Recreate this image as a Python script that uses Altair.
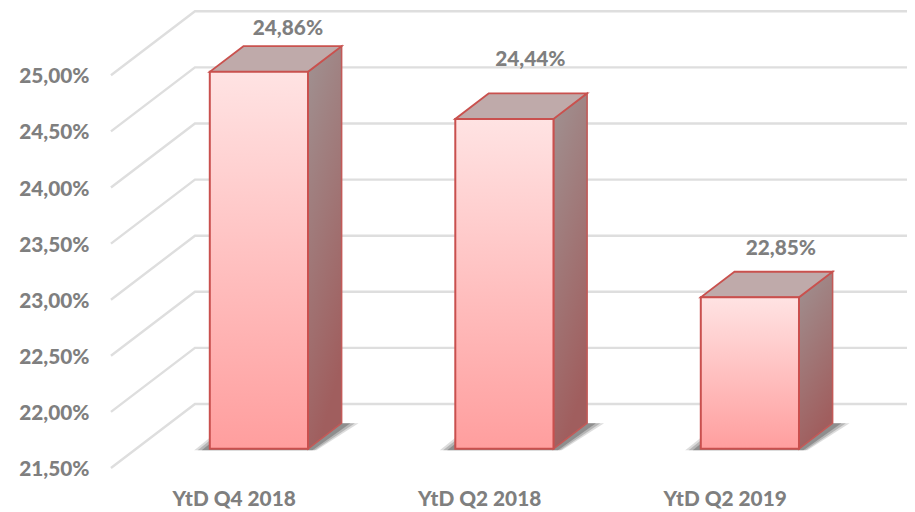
import altair as alt
import pandas as pd

categories = ["YtD Q4 2018", "YtD Q2 2018", "YtD Q2 2019"]
values = [24.86, 24.44, 22.85]
ticks = [21.5, 22.0, 22.5, 23.0, 23.5, 24.0, 24.5, 25.0]

# projection of the fake 3D box: one unit of depth, in axis units
DEPTH_X = 84 / 245.5
DEPTH_Y = 64 / 112.2
FRONT, BACK = 0.3, 0.7
HALF = 0.2
BASE = 21.5
LABEL_NUDGE = [(29, -43), (26, -59), (31, -48)]

def px(k, d):
    return k + d * DEPTH_X

def py(v, d):
    return v + d * DEPTH_Y

X = alt.Scale(domain=[-0.5894, 2.7426], nice=False, zero=False)
Y = alt.Scale(domain=[21.384, 25.591], nice=False, zero=False)
TXT = "#7f7f7f"
FONT = "Lato"
FS = 20.8
W = 900

def grad(stops, x2=0, y2=1):
    return {"gradient": "linear", "x1": 0, "y1": 0, "x2": x2, "y2": y2,
            "stops": [{"offset": o, "color": c} for o, c in stops]}

XA = alt.Axis(values=[0, 1, 2], grid=False, domain=False, ticks=False,
              labelExpr="%s[datum.value]" % categories,
              labelFont=FONT, labelFontSize=FS, labelFontWeight=W,
              labelColor=TXT, labelPadding=8, labelFlush=False)
YA = alt.Axis(values=ticks, grid=False, domain=False, ticks=False,
              labelExpr="replace(format(datum.value,'.2f'),'.',',')+'%'",
              labelFont=FONT, labelFontSize=FS, labelFontWeight=W,
              labelColor=TXT, labelPadding=0, labelOffset=1.5)
ax = dict(scale=X, axis=XA, title=None)
ay = dict(scale=Y, axis=YA, title=None)

# grid: diagonal on the side wall + horizontal on the back wall
grid_rows = []
for t in ticks:
    for k, d in [(-0.5, 0), (-0.5, 1), (2.5, 1)]:
        grid_rows.append({"tick": t, "x": px(k, d), "y": py(t, d), "o": d + k})
grid = alt.Chart(pd.DataFrame(grid_rows)).mark_line(color="#dedede", strokeWidth=2.4, clip=True).encode(
    x=alt.X("x:Q", **ax), y=alt.Y("y:Q", **ay), detail="tick:N", order="o:Q")

layers = [grid]

for k, (cat, v) in enumerate(zip(categories, values)):
    # soft floor shadow
    for grow, op in [(1.15, 0.18), (0.9, 0.25), (0.6, 0.35)]:
        sh = pd.DataFrame([
            {"y": py(BASE, FRONT) - 0.012, "x": px(k - HALF - 0.055 * grow, FRONT), "x2": px(k + HALF + 0.03 * grow, FRONT)},
            {"y": py(BASE, BACK) + 0.0, "x": px(k - HALF - 0.055 * grow, BACK), "x2": px(k + HALF + 0.06 * grow, BACK)},
        ])
        layers.append(alt.Chart(sh).mark_area(
            orient="horizontal", color="#444444", opacity=op, strokeWidth=0).encode(
            y=alt.Y("y:Q", **ay), x=alt.X("x:Q", **ax), x2="x2:Q"))

    # right side face
    side = pd.DataFrame([
        {"x": px(k + HALF, FRONT), "y": py(BASE, FRONT), "y2": py(v, FRONT)},
        {"x": px(k + HALF, BACK), "y": py(BASE, BACK), "y2": py(v, BACK)},
    ])
    layers.append(alt.Chart(side).mark_area(
        fill=grad([(0, "#a09292"), (1, "#a05e5e")], x2=0.3), stroke="#c25a58", strokeWidth=1.6).encode(
        x=alt.X("x:Q", **ax), y=alt.Y("y:Q", **ay), y2="y2:Q"))

    # top face
    top = pd.DataFrame([
        {"y": py(v, FRONT), "x": px(k - HALF, FRONT), "x2": px(k + HALF, FRONT)},
        {"y": py(v, BACK), "x": px(k - HALF, BACK), "x2": px(k + HALF, BACK)},
    ])
    layers.append(alt.Chart(top).mark_area(
        orient="horizontal", fill="#bfaaaa", stroke="#c9514e", strokeWidth=1.8).encode(
        y=alt.Y("y:Q", **ay), x=alt.X("x:Q", **ax), x2="x2:Q"))

    # front face
    front = pd.DataFrame([{"x": px(k - HALF, FRONT), "x2": px(k + HALF, FRONT),
                           "y": py(BASE, FRONT), "y2": py(v, FRONT)}])
    layers.append(alt.Chart(front).mark_rect(
        fill=grad([(0, "#ffe3e3"), (1, "#ff9e9e")]), stroke="#c9504e", strokeWidth=2).encode(
        x=alt.X("x:Q", **ax), x2="x2:Q", y=alt.Y("y:Q", **ay), y2="y2:Q"))

    # data label
    lab = pd.DataFrame([{"x": px(k, FRONT), "y": py(v, FRONT),
                         "t": f"{v:.2f}".replace(".", ",") + "%"}])
    dx, dy = LABEL_NUDGE[k]
    layers.append(alt.Chart(lab).mark_text(
        font=FONT, fontSize=FS, fontWeight=W, color=TXT, dx=dx, dy=dy, baseline="middle").encode(
        x=alt.X("x:Q", **ax), y=alt.Y("y:Q", **ay), text="t:N"))

chart = alt.layer(*layers).properties(
    width=818, height=472, background="#ffffff",
    padding={"left": 81, "top": 1, "right": 0, "bottom": 30},
    autosize=alt.AutoSizeParams(type="none"),
).configure_view(stroke=None)

chart.save("out.html", embed_options={"renderer": "svg", "actions": False})
